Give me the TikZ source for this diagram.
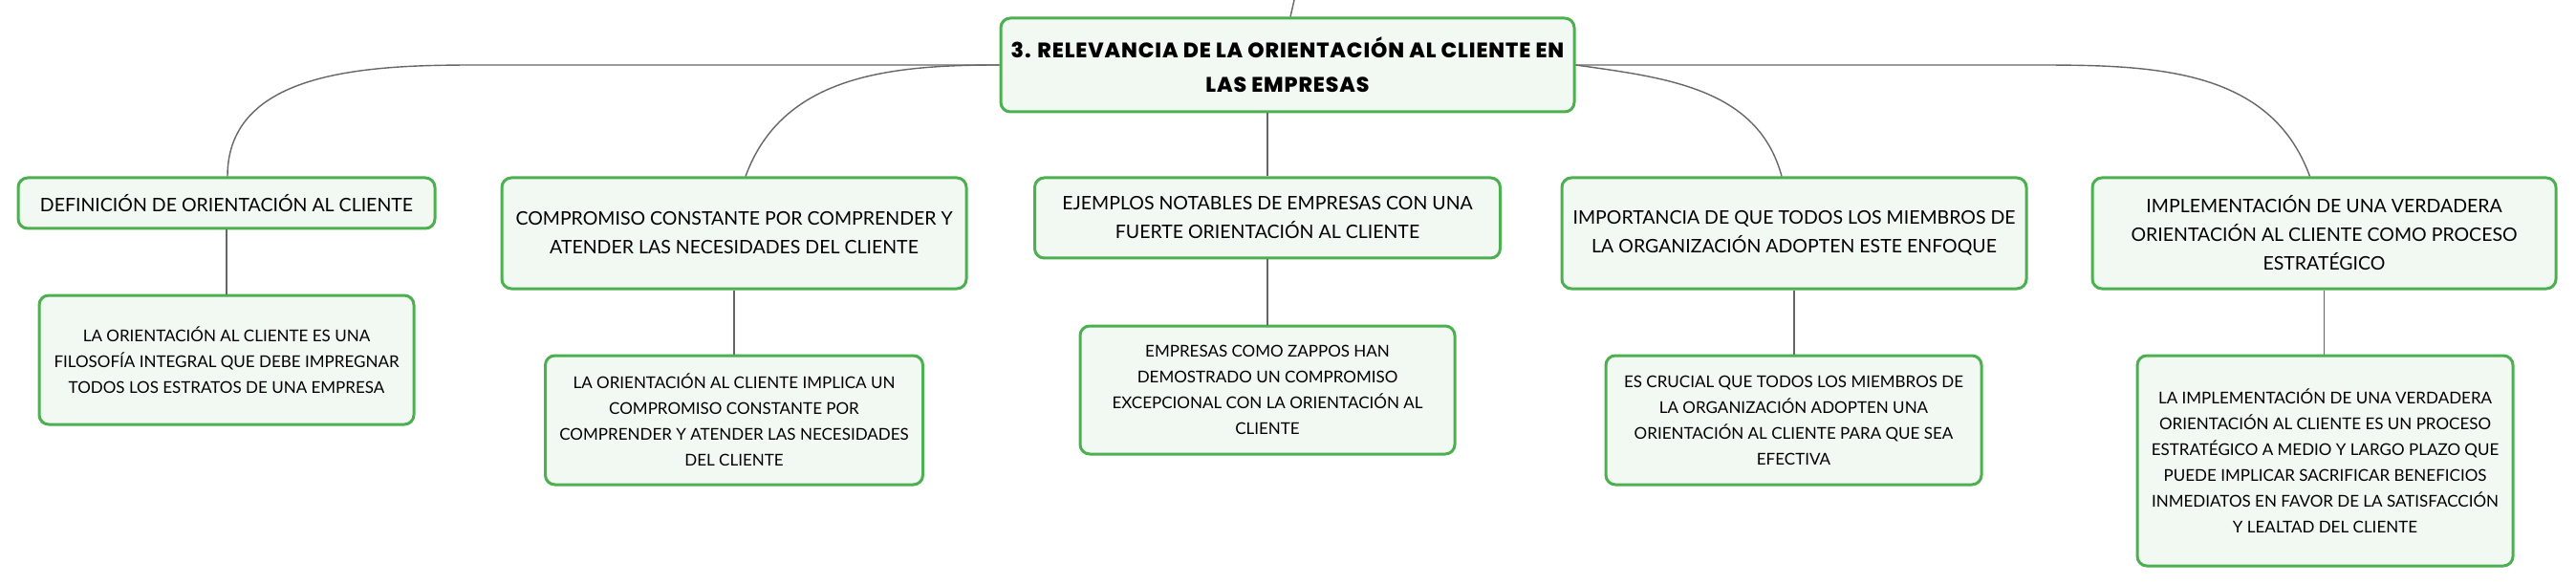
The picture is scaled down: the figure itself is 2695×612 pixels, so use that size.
\documentclass[tikz,border=0pt]{standalone}
\usepackage{fontspec}
\setmainfont{Lato}
\newfontfamily\heavyfont{Poppins ExtraBold}[LetterSpace=4]
\definecolor{boxgreen}{HTML}{4CAF50}
\definecolor{boxfill}{HTML}{F1F9F2}
\definecolor{linegray}{HTML}{666666}
\begin{document}
\begin{tikzpicture}[x=1pt,y=-1pt,
  topic/.style={draw=boxgreen,fill=boxfill,line width=3pt,rounded corners=10pt,inner sep=0pt,align=center,font=\fontsize{19.5}{30}\selectfont},
  leaf/.style={topic,font=\fontsize{17}{27}\selectfont},
  conn/.style={draw=linegray,line width=1.4pt}]
\useasboundingbox (0,0) rectangle (2695,612);
\node[topic,minimum width=600pt,minimum height=98pt,font=\fontsize{22}{36}\heavyfont] (root) at (1347,68) {3. RELEVANCIA DE LA ORIENTACIÓN AL CLIENTE EN\\LAS EMPRESAS};
\node[topic,minimum width=436pt,minimum height=53pt] (def) at (237,212.5) {DEFINICIÓN DE ORIENTACIÓN AL CLIENTE};
\node[topic,minimum width=486pt,minimum height=116pt] (comp) at (768,244) {COMPROMISO CONSTANTE POR COMPRENDER Y\\ATENDER LAS NECESIDADES DEL CLIENTE};
\node[topic,minimum width=487pt,minimum height=84pt] (ejem) at (1326,228) {EJEMPLOS NOTABLES DE EMPRESAS CON UNA\\FUERTE ORIENTACIÓN AL CLIENTE};
\node[topic,minimum width=486pt,minimum height=116pt] (impo) at (1877,244) {IMPORTANCIA DE QUE TODOS LOS MIEMBROS DE\\LA ORGANIZACIÓN ADOPTEN ESTE ENFOQUE};
\node[topic,minimum width=485pt,minimum height=116pt] (impl) at (2431.5,244) {IMPLEMENTACIÓN DE UNA VERDADERA\\ORIENTACIÓN AL CLIENTE COMO PROCESO\\ESTRATÉGICO};
\node[leaf,minimum width=392pt,minimum height=135pt] (defleaf) at (237,376.5) {LA ORIENTACIÓN AL CLIENTE ES UNA\\FILOSOFÍA INTEGRAL QUE DEBE IMPREGNAR\\TODOS LOS ESTRATOS DE UNA EMPRESA};
\node[leaf,minimum width=395pt,minimum height=135pt] (compleaf) at (768,439.5) {LA ORIENTACIÓN AL CLIENTE IMPLICA UN\\COMPROMISO CONSTANTE POR\\COMPRENDER Y ATENDER LAS NECESIDADES\\DEL CLIENTE};
\node[leaf,minimum width=392pt,minimum height=134pt] (ejemleaf) at (1326,408) {EMPRESAS COMO ZAPPOS HAN\\DEMOSTRADO UN COMPROMISO\\EXCEPCIONAL CON LA ORIENTACIÓN AL\\CLIENTE};
\node[leaf,minimum width=393pt,minimum height=135pt] (impoleaf) at (1876.5,439.5) {ES CRUCIAL QUE TODOS LOS MIEMBROS DE\\LA ORGANIZACIÓN ADOPTEN UNA\\ORIENTACIÓN AL CLIENTE PARA QUE SEA\\EFECTIVA};
\node[leaf,minimum width=393pt,minimum height=220pt] (implleaf) at (2432.5,482) {LA IMPLEMENTACIÓN DE UNA VERDADERA\\ORIENTACIÓN AL CLIENTE ES UN PROCESO\\ESTRATÉGICO A MEDIO Y LARGO PLAZO QUE\\PUEDE IMPLICAR SACRIFICAR BENEFICIOS\\INMEDIATOS EN FAVOR DE LA SATISFACCIÓN\\Y LEALTAD DEL CLIENTE};
\coordinate (up) at (1354,0);
% root to topics
\draw[conn] ([xshift=3pt]root.north) -- (up);
\draw[conn] (root.west) -- (498,68) to[out=180,in=90] ([xshift=1pt]def.north);
\draw[conn] (root.west) to[out=180,in=70] ([xshift=12pt]comp.north);
\draw[conn] (root.south -| ejem.north) -- (ejem.north);
\draw[conn] (root.east) to[out=-8,in=105] ([xshift=-13pt]impo.north);
\draw[conn] (root.east) -- (2117,68) to[out=0,in=110] ([xshift=-15pt]impl.north);
% topics to leaves
\foreach \a in {def,comp,ejem,impo,impl}
  \draw[conn] (\a.south) -- (\a.south |- \a leaf.north);
\end{tikzpicture}
\end{document}
